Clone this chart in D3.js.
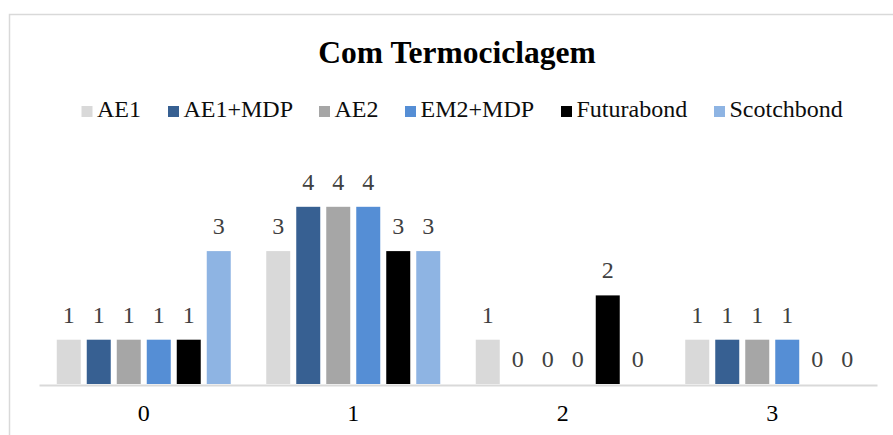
<!DOCTYPE html>
<html>
<head>
<meta charset="utf-8">
<script src="https://cdn.jsdelivr.net/npm/d3@7"></script>
<style>
  html, body { margin: 0; padding: 0; background: #fff; }
  svg { display: block; font-family: "Liberation Serif", "Times New Roman", serif; }
</style>
</head>
<body>
<svg id="chart" width="893" height="435"></svg>
<script>
// Categories on the x axis and one value array per adhesive system
const categories = ["0", "1", "2", "3"];
const seriesNames = ["AE1", "AE1+MDP", "AE2", "EM2+MDP", "Futurabond", "Scotchbond"];
const ae1 = [1, 3, 1, 1];
const ae1Mdp = [1, 4, 0, 1];
const ae2 = [1, 4, 0, 1];
const em2Mdp = [1, 4, 0, 1];
const futurabond = [1, 3, 2, 0];
const scotchbond = [3, 3, 0, 0];
const seriesColors = ["#d9d9d9", "#376092", "#a6a6a6", "#558ed5", "#000000", "#8eb4e3"];

const seriesValues = [ae1, ae1Mdp, ae2, em2Mdp, futurabond, scotchbond];
const series = seriesNames.map((name, i) => ({ name, values: seriesValues[i], color: seriesColors[i] }));

const svg = d3.select("#chart");

// Chart frame (right and bottom edges fall outside the view)
svg.append("rect")
  .attr("x", 9.5).attr("y", 14.5)
  .attr("width", 900).attr("height", 440)
  .attr("fill", "#fff")
  .attr("stroke", "#d9d9d9")
  .attr("stroke-width", 1.5);

// Title
svg.append("text")
  .attr("x", 457).attr("y", 63)
  .attr("text-anchor", "middle")
  .attr("font-size", 31.5)
  .attr("font-weight", "bold")
  .attr("fill", "#000")
  .text("Com Termociclagem");

// Legend
const legendX = [81.5, 168, 319, 405, 561, 714];
const legend = svg.append("g");
series.forEach((s, i) => {
  const g = legend.append("g").attr("transform", `translate(${legendX[i]},0)`);
  g.append("rect").attr("x", 0).attr("y", 106).attr("width", 11).attr("height", 11).attr("fill", s.color);
  g.append("text").attr("x", 15.5).attr("y", 117).attr("font-size", 24).attr("fill", "#0d0d0d").text(s.name);
});

// Scales
const plotLeft = 39, plotRight = 877, baseline = 384;
const x0 = d3.scaleBand().domain(categories).range([plotLeft, plotRight]).padding(0);
const groupPad = (x0.bandwidth() - 174) / 2;
const x1 = d3.scaleBand().domain(seriesNames)
  .range([groupPad, x0.bandwidth() - groupPad])
  .paddingInner(0.2).paddingOuter(0);
const y = d3.scaleLinear().domain([0, 4]).range([baseline, baseline - 177.2]);

// Bars
const groups = svg.append("g").selectAll("g")
  .data(categories)
  .join("g")
  .attr("transform", d => `translate(${x0(d)},0)`);

groups.selectAll("rect")
  .data((c, ci) => series.map(s => ({ name: s.name, color: s.color, value: s.values[ci] })))
  .join("rect")
  .attr("x", d => x1(d.name))
  .attr("y", d => y(d.value))
  .attr("width", x1.bandwidth())
  .attr("height", d => baseline - y(d.value))
  .attr("fill", d => d.color);

// Value labels
groups.selectAll("text")
  .data((c, ci) => series.map(s => ({ name: s.name, value: s.values[ci] })))
  .join("text")
  .attr("x", d => x1(d.name) + x1.bandwidth() / 2)
  .attr("y", d => y(d.value) - 17)
  .attr("text-anchor", "middle")
  .attr("font-size", 24)
  .attr("fill", "#404040")
  .text(d => d.value);

// X axis
const xAxis = svg.append("g")
  .attr("transform", `translate(0,${baseline + 1})`)
  .call(d3.axisBottom(x0).tickSize(0).tickPadding(0));
xAxis.select(".domain").attr("stroke", "#d9d9d9").attr("stroke-width", 2);
xAxis.selectAll(".tick text")
  .attr("dy", null)
  .attr("y", 36)
  .attr("font-family", "Liberation Serif, Times New Roman, serif")
  .attr("font-size", 24)
  .attr("fill", "#000");
</script>
</body>
</html>
